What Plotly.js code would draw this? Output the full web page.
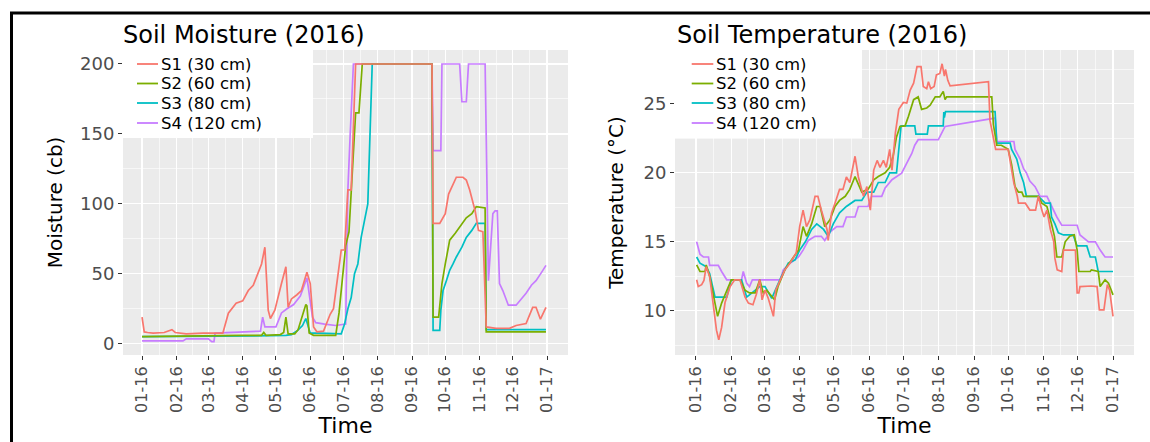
<!DOCTYPE html>
<html><head><meta charset="utf-8">
<script src="https://cdn.plot.ly/plotly-3.0.1.min.js"></script>
<style>html,body{margin:0;padding:0;background:#fff;} #chart{width:1150px;height:442px;}</style>
</head><body><div id="chart"></div>
<script>
// ---------- data ----------
const monthTickDays = [0,31,60,91,121,152,182,213,244,274,305,335,366];
const monthTickLabels = ['01-16','02-16','03-16','04-16','05-16','06-16','07-16','08-16','09-16','10-16','11-16','12-16','01-17'];
const seriesNames = ['S1 (30 cm)','S2 (60 cm)','S3 (80 cm)','S4 (120 cm)'];
const seriesColors = ['#F8766D','#7CAE00','#00BFC4','#C77CFF'];
const moistureTicks = [0,50,100,150,200];
const tempTicks = [10,15,20,25];

// Soil moisture (cb), [day of 2016, value]
const moistureS1 = [[0,19],[2,8.4],[5,8],[10,7.5],[20,8],[27,10],[30,8],[40,7],[55,7.5],[70,7.5],[73,7.5],[78,21.8],[85,29],[91,30.6],[96,38],[100.5,41.8],[105,51],[108,57],[111,69],[114,24],[116,18],[120,24],[126,43],[130,55],[132,26],[135,32],[140,35],[144,38],[149,51],[152,43],[155,12],[158,8.5],[164,9],[170,21],[173,25],[177,47],[180,67],[183,67],[186,110],[189,110],[193,200],[262,200],[263,86],[269,86],[274,93],[277,107],[281,114],[284,119],[290,119],[293,117],[296,110],[299,100],[301,95],[304,81],[308,80],[311,12],[320,11],[332,11],[338,13],[347,14.4],[350,20],[353,26],[356,26],[360,17.5],[365,26]];
const moistureS2 = [[0,5],[30,5.5],[60,5.5],[90,6],[108,6],[110,8],[112,6],[125,6.5],[128,8],[130,19],[132,7],[138,7],[141,10],[146,22],[148,28],[149,27],[151,7.6],[155,6],[175,6],[178,22],[181,45],[184,70],[187,80],[190,120],[193,165],[196,165],[199,200],[262,200],[263,19],[268,19],[271,43],[274,57],[278,74],[283,79],[289,86],[293,90],[298,93],[302,98],[310,97],[311,8.5],[365,8.5]];
const moistureS3 = [[0,5],[60,5],[100,5.5],[130,6],[135,6.5],[140,9],[145,13],[148,18],[150,12],[152,7.5],[160,7.5],[180,7],[183,14],[186,25],[189,33],[192,50],[195,57],[198,76],[201,88],[204,100],[208,200],[262,200],[263,9.5],[269,9.5],[270,24],[272,38],[275,45],[278,52.5],[281,57],[284,62],[289,69],[293,76],[298,81],[302,86],[310,86],[311,10],[365,10]];
const moistureS4 = [[0,2],[37,2],[40,3.5],[60,3.5],[63,1.5],[65,1.5],[66,7.5],[100,8.5],[107,9],[109,19],[111,12],[121,12],[126,22],[131,25],[137,28],[143,34],[149,47],[154,19],[157,15],[165,14],[175,13],[184,14],[186,110],[188,148],[191,200],[262,200],[263,138],[270,138],[271,200],[287,200],[289,173],[293,173],[295,200],[310,200],[313,45],[317,93],[319,95],[321,95],[323,43],[326,38],[331,27.5],[338,27.5],[343,32],[347,36],[352,42],[356,45],[361,51],[365,56]];

// Soil temperature (°C), [day of 2016, value]
const tempS1 = [[0.6,12.25],[2,11.76],[5,11.9],[7,12.2],[9,13.2],[12,12.5],[15,10.56],[18,8.6],[20,7.9],[22.5,8.8],[25.5,10.6],[30,11.76],[34,12.25],[38.6,12.25],[43,11.0],[46,10.56],[50,10.44],[53,11.2],[56,12.25],[58,10.8],[60.6,11.5],[63.5,10.9],[68,9.6],[70,11.5],[74,12.25],[78,12.97],[82.5,13.45],[88,14.2],[91,16.1],[94,17.3],[97,16.1],[100,16.6],[104.5,18.3],[107,18.3],[110,17.3],[115,15.9],[116,15.1],[119,17.1],[122,17.8],[126,18.8],[129,18.8],[132,19.7],[135,19.3],[139.6,21.2],[142.5,19.7],[147,18.3],[150,19.0],[153,17.3],[156,20.2],[159,20.9],[161.5,20.4],[164.5,20.9],[167,20.4],[170,21.7],[172,20.2],[175,22.9],[178,24.6],[182,25.1],[185,25.05],[188,26.0],[191,26.5],[194,27.7],[197.5,27.7],[199.5,26.25],[202.5,26.1],[204,26.6],[206,26.1],[209,26.25],[211,27.1],[214,27.2],[216,27.9],[218,27.0],[219,27.5],[221,26.7],[223,26.3],[256.7,26.6],[258,23.8],[263,21.7],[274,21.7],[279,19.25],[282,18.3],[283,17.8],[289,17.8],[293,17.3],[298,17.3],[300.5,18.3],[303.5,17.3],[305.5,16.8],[308,17.3],[311,15.9],[314,15.0],[315,13.8],[317,12.97],[321,12.85],[322.5,14.4],[333,14.4],[334.5,11.3],[336,11.3],[337,11.76],[347,11.8],[352,11.76],[354,10.07],[358,10.07],[361,11.9],[363,11.5],[366,9.6]];
const tempS2 = [[0.6,13.33],[3.5,12.85],[8,12.85],[9,13.33],[12,12.5],[15,11.28],[19,9.6],[22.5,10.56],[27,11.5],[31,12.25],[38.6,12.25],[43,11.5],[47,11.3],[52,11.3],[56,12.25],[59,11.3],[62,11.5],[69,10.8],[72,11.76],[78,12.97],[84,13.7],[90,14.4],[94,16.1],[97,15.4],[101.5,16.3],[106,17.56],[109,17.56],[113,16.1],[117.6,16.6],[122,17.56],[126,18.0],[131,18.3],[135,18.8],[139.6,19.73],[145.5,18.6],[151,18.8],[156,19.5],[160,19.73],[166,20.0],[170,20.4],[173,21.2],[176,22.6],[179,23.36],[183.5,23.4],[186.5,24.1],[191,25.3],[195,25.5],[198,24.6],[202.5,24.7],[205.5,24.9],[210,25.5],[214,25.5],[217,25.9],[218.6,25.3],[220,25.5],[259.6,25.5],[261,23.5],[264,22.0],[268,22.0],[274,21.7],[277,20.6],[280,19.0],[283,18.6],[286,18.6],[287.5,18.3],[300.5,18.3],[303.5,17.8],[308,17.56],[312,16.3],[314.6,15.4],[316.7,13.9],[321,13.9],[324,15.0],[328,15.4],[332,15.5],[334.5,14.4],[336,12.85],[346,12.85],[347,12.97],[353,12.85],[354.7,11.76],[359,12.25],[362,12.0],[366,11.16]];
const tempS3 = [[0.6,13.9],[3.5,13.45],[9,13.2],[12,12.7],[16.7,11.0],[27,11.0],[31,12.25],[40,12.25],[44.5,11.0],[49,11.3],[56,11.76],[60.6,11.76],[66.5,10.9],[71,11.76],[75,12.5],[81,13.45],[87,13.7],[91,14.4],[96,15.0],[101.5,15.9],[106,16.3],[112,15.9],[116,15.4],[120.5,16.3],[126,17.1],[132,17.56],[139.6,18.0],[145.5,18.0],[150,18.6],[156,18.6],[160,19.3],[166,19.3],[170,20.0],[176,20.0],[178,21.5],[180,23.4],[192,23.4],[193,22.8],[203,22.8],[204,23.4],[217,23.4],[217.5,24.4],[218,24.0],[219,24.44],[262.5,24.44],[264,22.15],[275.7,22.15],[277,21.7],[281.5,21.0],[284.5,20.0],[287.5,19.3],[290,18.3],[300.5,18.3],[306.5,17.8],[311,17.8],[312,16.8],[315,16.3],[318,15.65],[322.5,15.5],[331,15.5],[334.5,14.7],[343,14.7],[346,13.9],[350.5,13.9],[353,12.85],[366,12.85]];
const tempS4 = [[0.6,15.0],[3.5,14.1],[6.5,13.9],[11,13.9],[12,13.3],[19.6,13.3],[22.5,12.85],[27,12.25],[40,12.25],[41.5,12.85],[44.5,12.0],[47,11.76],[49.5,12.25],[74,12.25],[76.6,12.97],[82.5,13.45],[90,13.9],[94,14.4],[98.6,15.1],[104.5,15.4],[110,15.4],[113,15.1],[117.6,15.7],[123.5,16.1],[129,16.1],[132,16.8],[139.6,16.8],[142.5,17.56],[151,17.56],[154,18.3],[163,18.3],[166,18.9],[172,19.5],[176,19.7],[180.5,19.97],[185,20.7],[189.4,21.4],[192,22.0],[195,22.4],[212.7,22.4],[218.6,23.36],[262.5,23.97],[264,22.27],[279,22.27],[280,21.7],[284.5,21.0],[287.5,20.3],[290,20.0],[293,19.4],[297.6,19.0],[302,18.3],[308,18.3],[312,17.56],[316.7,16.8],[321,16.2],[334.5,16.2],[337,15.5],[344.5,15.0],[350.5,15.0],[354.7,14.4],[359,13.9],[366,13.9]];

// ---------- build ----------
const FONT = 'DejaVu Sans, Liberation Sans, sans-serif';
const W = 1150, H = 442;
const px = v => v / W;            // pixel -> paper x
const py = v => 1 - v / H;        // pixel -> paper y

const moisture = [moistureS1, moistureS2, moistureS3, moistureS4];
const temperature = [tempS1, tempS2, tempS3, tempS4];

const traces = [];
for (let i = 3; i >= 0; i--) {
  traces.push({type:'scatter', mode:'lines', name:seriesNames[i], showlegend:false, hoverinfo:'skip',
    x: moisture[i].map(p => p[0]), y: moisture[i].map(p => p[1]),
    xaxis:'x', yaxis:'y', line:{color:seriesColors[i], width:1.7}});
}
for (let i = 3; i >= 0; i--) {
  traces.push({type:'scatter', mode:'lines', name:seriesNames[i], showlegend:false, hoverinfo:'skip',
    x: temperature[i].map(p => p[0]), y: temperature[i].map(p => p[1]),
    xaxis:'x2', yaxis:'y2', line:{color:seriesColors[i], width:1.7}});
}

const midpoints = a => a.slice(1).map((v, k) => (v + a[k]) / 2);
const tickFont = {family:FONT, size:18, color:'#4D4D4D'};
const xTickFont = {family:FONT, size:16, color:'#4D4D4D'};

function xAxis(dom, rng) {
  return {domain:dom, range:rng, tickmode:'array', tickvals:monthTickDays, ticktext:monthTickLabels,
    tickangle:-90, tickfont:xTickFont, ticks:'outside', ticklen:4, tickcolor:'#333', tickwidth:1,
    showgrid:true, gridcolor:'#FFFFFF', gridwidth:1.2, zeroline:false, showline:false, fixedrange:true,
    minor:{tickmode:'array', tickvals:midpoints(monthTickDays), showgrid:true, gridcolor:'#FFFFFF', gridwidth:0.6, ticks:''},
    title:{text:'Time', font:{family:FONT, size:22, color:'#000'}, standoff:5}};
}
function yAxis(dom, rng, ticks, anchor, title, standoff) {
  return {domain:dom, range:rng, anchor:anchor, tickmode:'array', tickvals:ticks, ticktext:ticks.map(String),
    tickfont:tickFont, ticks:'outside', ticklen:4, tickcolor:'#333', tickwidth:1,
    showgrid:true, gridcolor:'#FFFFFF', gridwidth:1.2, zeroline:false, showline:false, fixedrange:true,
    minor:{tickmode:'array', tickvals:midpoints(ticks).concat([ticks[0]-(ticks[1]-ticks[0])/2, ticks[ticks.length-1]+(ticks[1]-ticks[0])/2]), showgrid:true, gridcolor:'#FFFFFF', gridwidth:0.6, ticks:''},
    title:{text:title, font:{family:FONT, size:20, color:'#000'}, standoff:standoff}};
}

const yDom = [py(355), py(50)];
const layout = {
  width:W, height:H, margin:{l:0, r:0, t:0, b:0}, autosize:false,
  paper_bgcolor:'#FFFFFF', plot_bgcolor:'#EBEBEB', showlegend:false,
  font:{family:FONT, color:'#000'},
  title:{text:'Soil Moisture (2016)', xref:'paper', yref:'paper', x:px(123), xanchor:'left', y:py(35), yanchor:'middle',
         font:{family:FONT, size:24, color:'#000'}},
  xaxis: Object.assign(xAxis([px(123), px(568)], [-17.2, 384.9]), {anchor:'y'}),
  yaxis: yAxis(yDom, [-8.1, 210], moistureTicks, 'x', 'Moisture (cb)', 12),
  xaxis2: Object.assign(xAxis([px(675), px(1134)], [-18.4, 384.4]), {anchor:'y2'}),
  yaxis2: yAxis(yDom, [6.8, 28.9], tempTicks, 'x2', 'Temperature (°C)', 14),
  annotations:[], shapes:[]
};

layout.annotations.push({text:'Soil Temperature (2016)', xref:'paper', yref:'paper', x:px(675), y:py(35),
  xanchor:'left', yanchor:'middle', showarrow:false, font:{family:FONT, size:24, color:'#000'}});

// legends drawn inside each panel (top-left)
const legendRows = [64, 83.5, 103, 123];
const legends = [
  {box:[123, 313], key:[137, 158], text:160},
  {box:[675, 862], key:[691.7, 713.3], text:714.5}
];
legends.forEach(lg => {
  layout.shapes.push({type:'rect', xref:'paper', yref:'paper', x0:px(lg.box[0]), x1:px(lg.box[1]), y0:py(138), y1:py(50),
    fillcolor:'#FFFFFF', line:{width:0}, layer:'above'});
  seriesNames.forEach((nm, i) => {
    layout.shapes.push({type:'line', xref:'paper', yref:'paper', x0:px(lg.key[0]), x1:px(lg.key[1]),
      y0:py(legendRows[i]), y1:py(legendRows[i]), line:{color:seriesColors[i], width:1.8}, layer:'above'});
    layout.annotations.push({text:nm, xref:'paper', yref:'paper', x:px(lg.text), y:py(legendRows[i]),
      xanchor:'left', yanchor:'middle', showarrow:false, height:19, borderpad:0,
      font:{family:FONT, size:16.5, color:'#000'}});
  });
});

// outer frame (left and top edges)
layout.shapes.push({type:'line', xref:'paper', yref:'paper', x0:px(11.5), x1:px(11.5), y0:0, y1:py(13), line:{color:'#000', width:3}, layer:'above'});
layout.shapes.push({type:'line', xref:'paper', yref:'paper', x0:px(10), x1:1, y0:py(13), y1:py(13), line:{color:'#000', width:3}, layer:'above'});

Plotly.newPlot('chart', traces, layout, {staticPlot:true, displayModeBar:false});
</script>
</body></html>
